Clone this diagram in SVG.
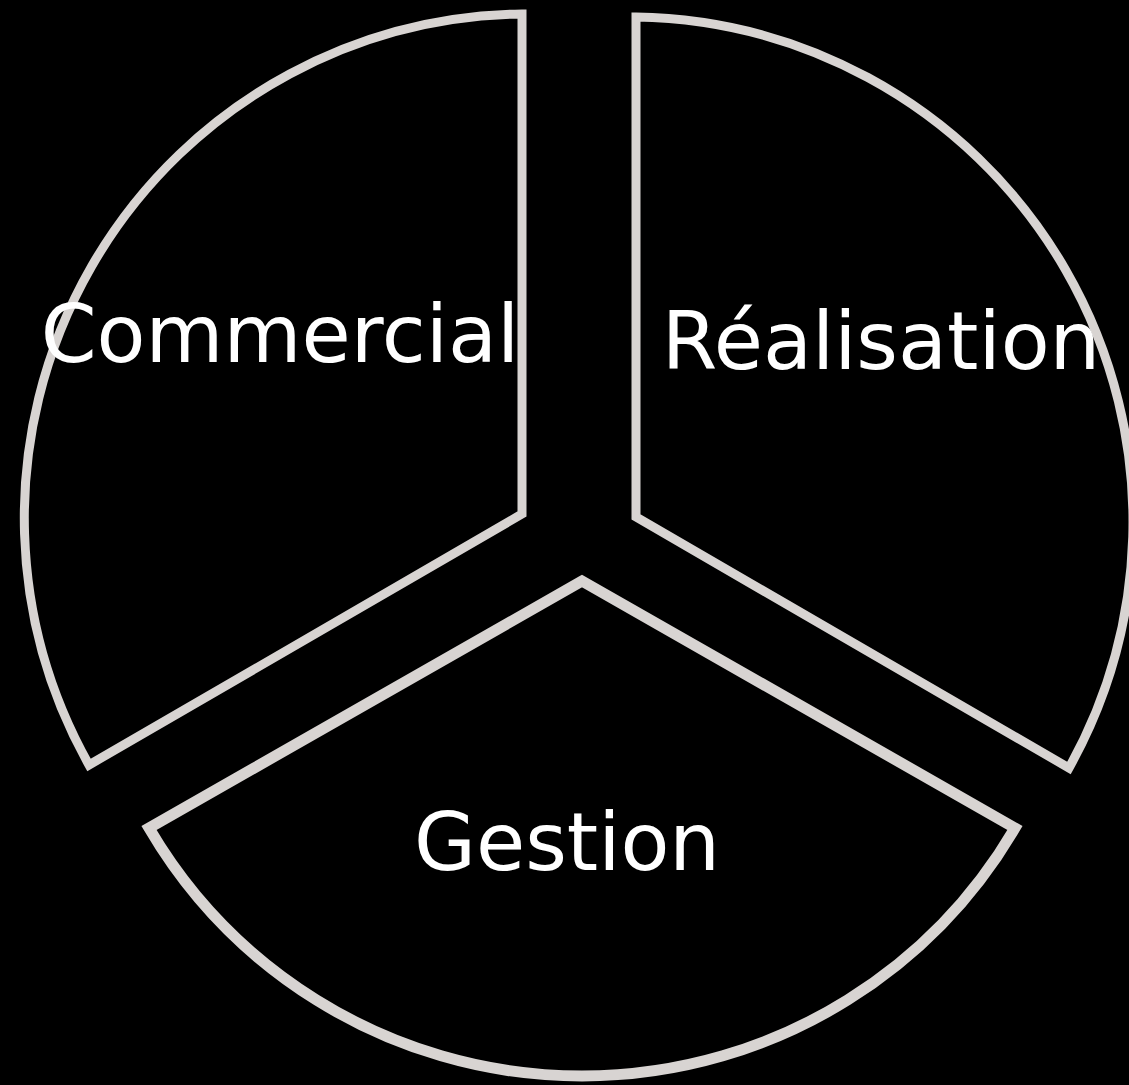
<svg xmlns="http://www.w3.org/2000/svg" width="1129" height="1085" viewBox="0 0 1129 1085">
  <style>
    .sector { fill: #000000; stroke: #d8d4d2; stroke-width: 9; stroke-linejoin: miter; }
    .label { font-family: "DejaVu Sans", sans-serif; font-size: 80px; fill: #ffffff; text-anchor: middle; }
  </style>
  <rect x="0" y="0" width="1129" height="1085" fill="#000000"/>
  <g id="commercial">
    <path class="sector" d="M522,14 L522,514 L89,765 A504,504 0 0 1 522,14 Z"/>
    <text class="label" x="280" y="362">Commercial</text>
  </g>
  <g id="realisation">
    <path class="sector" d="M636,17 L636,517 L1069,768 A505,505 0 0 0 636,17 Z"/>
    <text class="label" x="881" y="369">Réalisation</text>
  </g>
  <g id="gestion">
    <path class="sector" style="stroke-width:11" d="M582,581 L149,828 A502,502 0 0 0 1015,828 Z"/>
    <text class="label" x="567" y="870">Gestion</text>
  </g>
  <g id="connectors"></g>
</svg>
